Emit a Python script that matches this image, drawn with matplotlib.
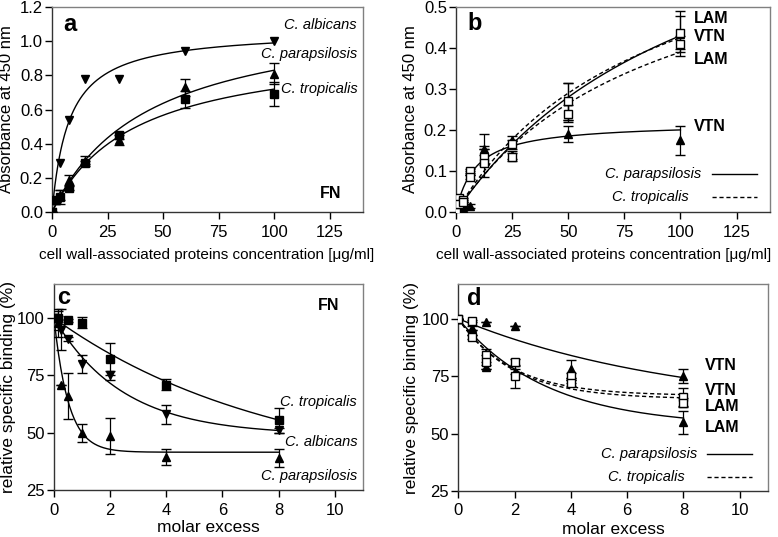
import numpy as np
import matplotlib
matplotlib.use("Agg")
import matplotlib.pyplot as plt
from matplotlib.ticker import FormatStrFormatter

plt.rcParams["font.family"] = ["Liberation Sans", "DejaVu Sans"]
plt.rcParams["font.size"] = 11

# ---- panel a: FN binding ----
a_x = [0, 1.875, 3.75, 7.5, 15, 30, 60, 100]
a_alb_x = [0, 3.75, 7.5, 15, 30, 60, 100]
a_alb_y = [0, 0.29, 0.54, 0.78, 0.78, 0.94, 1.00]
a_par_y = [0, 0.07, 0.10, 0.19, 0.30, 0.42, 0.73, 0.81]
a_par_e = [0, 0.01, 0.03, 0.03, 0.03, 0.03, 0.05, 0.06]
a_tro_y = [0, 0.07, 0.09, 0.14, 0.29, 0.45, 0.66, 0.69]
a_tro_e = [0, 0.01, 0.04, 0.01, 0.01, 0.02, 0.05, 0.07]
# one-site fits (Bmax, Kd)
a_fit = {"alb": (1.066, 7.7), "par": (1.193, 43.7), "tro": (0.986, 37.0)}

# ---- panel b: LAM / VTN binding ----
b_x = [0, 1.56, 3.125, 6.25, 12.5, 25, 50, 100]
b_par_lam_y = [0, 0.005, 0.01, 0.015, 0.155, 0.175, 0.27, 0.435]
b_par_lam_e = [0, 0.005, 0.005, 0.005, 0.035, 0.01, 0.045, 0.055]
b_par_vtn_y = [0, 0.01, 0.02, 0.095, 0.15, 0.14, 0.19, 0.175]
b_par_vtn_e = [0, 0.005, 0.005, 0.005, 0.01, 0.01, 0.02, 0.035]
b_tro_vtn_y = [0, 0.035, 0.03, 0.10, 0.135, 0.165, 0.27, 0.437]
b_tro_vtn_e = [0, 0.005, 0.005, 0.005, 0.02, 0.01, 0.045, 0.04]
b_tro_lam_y = [0, 0.02, 0.025, 0.085, 0.12, 0.135, 0.24, 0.41]
b_tro_lam_e = [0, 0.005, 0.005, 0.005, 0.035, 0.01, 0.02, 0.02]
b_fit = {"par_lam": (0.927, 115.5), "par_vtn": (0.218, 8.8),
         "tro_vtn": (0.795, 87.1), "tro_lam": (0.738, 89.3)}

# ---- panel c: FN inhibition ----
c_tro_x = [0, 0.125, 0.5, 1, 2, 4, 8]
c_tro_y = [100, 100, 99, 98, 82, 71, 55.5]
c_tro_e = [0, 1, 0.5, 2.5, 7, 2.5, 5.5]
c_x = [0, 0.125, 0.25, 0.5, 1, 2, 4, 8]
c_alb_y = [100, 99, 95, 91, 80, 75, 58, 51]
c_alb_e = [0, 4, 9, 1, 4, 2, 4, 1]
c_par_y = [100, 98, 71, 66, 50, 48.5, 39.5, 39]
c_par_e = [0, 6, 0, 10, 4, 8, 3.5, 4]
# one-phase decay fits (plateau, k)
c_fit = {"tro": (30.0, 0.126), "alb": (49.0, 0.407), "par": (41.5, 1.93)}

# ---- panel d: LAM / VTN inhibition ----
d_x = [0, 0.5, 1, 2, 4, 8]
d_par_vtn_y = [100, 96, 98.5, 97, 78, 75]
d_par_vtn_e = [0, 1, 0, 0, 4, 3]
d_par_lam_y = [100, 94, 79, 77, 73, 55]
d_par_lam_e = [0, 1, 1, 1, 1, 5]
d_tro_vtn_y = [100, 99, 84, 81, 75, 66]
d_tro_vtn_e = [0, 0.5, 3, 1.5, 1.5, 4]
d_tro_lam_y = [100, 92, 81, 75, 72, 63.5]
d_tro_lam_e = [0, 1, 3, 5, 1.5, 2]
d_fit = {"par_vtn": (59.5, 0.1256), "par_lam": (53.0, 0.3156),
         "tro_vtn": (66.5, 0.535), "tro_lam": (65.0, 0.515)}


def hyper(x, p):
    return p[0] * x / (p[1] + x)


def decay(x, p):
    return p[0] + (100 - p[0]) * np.exp(-p[1] * x)


def style(ax):
    for s in ["top", "right"]:
        ax.spines[s].set_color("#808080")
    for s in ["left", "bottom"]:
        ax.spines[s].set_color("#333333")
    ax.spines[:].set_linewidth(1.0)
    ax.tick_params(direction="out", length=5, width=1, labelsize=12, top=False, right=False)
    ax.tick_params(axis="y", pad=1.5)
    ax.tick_params(axis="x", pad=4)


def pts(ax, x, y, e, m, filled=True, ms=5.5):
    ax.errorbar(x, y, yerr=e, fmt=m, color="black", ms=ms,
                mfc="black" if filled else "white", mec="black", mew=1,
                elinewidth=0.9, capsize=3.5, capthick=0.9, zorder=3)


fig = plt.figure(figsize=(7.78, 5.37), dpi=100)
ax_a = fig.add_axes([0.0668, 0.605, 0.400, 0.382])
ax_b = fig.add_axes([0.586, 0.605, 0.404, 0.382])
ax_c = fig.add_axes([0.0694, 0.0875, 0.397, 0.384])
ax_d = fig.add_axes([0.589, 0.0857, 0.398, 0.385])

xs = np.linspace(0, 100, 300)
xd = np.linspace(0, 8, 300)
xlab = "cell wall-associated proteins concentration [\u03bcg/ml]"
dash = (0, (3, 2))

# a
ax = ax_a
for k in a_fit:
    ax.plot(xs, hyper(xs, a_fit[k]), color="black", lw=1)
pts(ax, a_alb_x, a_alb_y, None, "v", ms=6)
pts(ax, a_x, a_par_y, a_par_e, "^", ms=6)
pts(ax, a_x, a_tro_y, a_tro_e, "s", ms=5.5)
ax.set_xlim(0, 140)
ax.set_ylim(0, 1.2)
ax.set_xticks([0, 25, 50, 75, 100, 125])
ax.set_yticks(np.arange(0, 1.21, 0.2))
ax.yaxis.set_major_formatter(FormatStrFormatter("%.1f"))
ax.set_ylabel("Absorbance at 450 nm", fontsize=12)
ax.set_xlabel(xlab, fontsize=11, va="center")
ax.yaxis.set_label_coords(-0.122, 0.5)
ax.xaxis.set_label_coords(0.497, -0.21)
ax.text(137, 1.095, "C. albicans", style="italic", ha="right", va="center", fontsize=10.5)
ax.text(137.5, 0.925, "C. parapsilosis", style="italic", ha="right", va="center", fontsize=10.5)
ax.text(137.5, 0.72, "C. tropicalis", style="italic", ha="right", va="center", fontsize=10.5)
ax.text(130, 0.111, "FN", weight="bold", ha="right", va="center", fontsize=11.5)
ax.text(5, 1.095, "a", weight="bold", ha="left", va="center", fontsize=17)
style(ax)

# b
ax = ax_b
ax.plot(xs, hyper(xs, b_fit["par_lam"]), color="black", lw=1)
ax.plot(xs, hyper(xs, b_fit["par_vtn"]), color="black", lw=1)
ax.plot(xs, hyper(xs, b_fit["tro_vtn"]), color="black", lw=1, ls=dash)
ax.plot(xs, hyper(xs, b_fit["tro_lam"]), color="black", lw=1, ls=dash)
pts(ax, b_x, b_par_lam_y, b_par_lam_e, "^", ms=5.5)
pts(ax, b_x, b_par_vtn_y, b_par_vtn_e, "^", ms=5.5)
pts(ax, b_x, b_tro_vtn_y, b_tro_vtn_e, "s", filled=False, ms=6)
pts(ax, b_x, b_tro_lam_y, b_tro_lam_e, "s", filled=False, ms=6)
ax.set_xlim(0, 140)
ax.set_ylim(0, 0.5)
ax.set_xticks([0, 25, 50, 75, 100, 125])
ax.set_yticks(np.arange(0, 0.51, 0.1))
ax.yaxis.set_major_formatter(FormatStrFormatter("%.1f"))
ax.set_ylabel("Absorbance at 450 nm", fontsize=12)
ax.set_xlabel(xlab, fontsize=11, va="center")
ax.yaxis.set_label_coords(-0.121, 0.5)
ax.xaxis.set_label_coords(0.47, -0.21)
for lbl, yy in [("LAM", 0.473), ("VTN", 0.427), ("LAM", 0.371), ("VTN", 0.209)]:
    ax.text(106, yy, lbl, weight="bold", ha="left", va="center", fontsize=11.5)
ax.text(109.5, 0.092, "C. parapsilosis", style="italic", ha="right", va="center", fontsize=10.5)
ax.text(103.5, 0.036, "C. tropicalis", style="italic", ha="right", va="center", fontsize=10.5)
ax.plot([114, 134], [0.092, 0.092], color="black", lw=1)
ax.plot([114, 134], [0.036, 0.036], color="black", lw=1, ls=dash)
ax.text(5, 0.459, "b", weight="bold", ha="left", va="center", fontsize=17)
style(ax)

# c
ax = ax_c
for k in c_fit:
    ax.plot(xd, decay(xd, c_fit[k]), color="black", lw=1)
pts(ax, c_tro_x, c_tro_y, c_tro_e, "s", ms=5.5)
pts(ax, c_x, c_alb_y, c_alb_e, "v", ms=6)
pts(ax, c_x, c_par_y, c_par_e, "^", ms=6)
ax.set_xlim(0, 11)
ax.set_ylim(25, 115)
ax.set_xticks([0, 2, 4, 6, 8, 10])
ax.set_yticks([25, 50, 75, 100])
ax.set_ylabel("relative specific binding (%)", fontsize=12.5)
ax.set_xlabel("molar excess", fontsize=12.5, va="center")
ax.yaxis.set_label_coords(-0.123, 0.5)
ax.xaxis.set_label_coords(0.5, -0.184)
ax.text(10.8, 63.6, "C. tropicalis", style="italic", ha="right", va="center", fontsize=10.5)
ax.text(10.8, 46.1, "C. albicans", style="italic", ha="right", va="center", fontsize=10.5)
ax.text(10.8, 31.1, "C. parapsilosis", style="italic", ha="right", va="center", fontsize=10.5)
ax.text(10.17, 105.4, "FN", weight="bold", ha="right", va="center", fontsize=11.5)
ax.text(0.1, 109, "c", weight="bold", ha="left", va="center", fontsize=17)
style(ax)

# d
ax = ax_d
ax.plot(xd, decay(xd, d_fit["par_vtn"]), color="black", lw=1)
ax.plot(xd, decay(xd, d_fit["par_lam"]), color="black", lw=1)
ax.plot(xd, decay(xd, d_fit["tro_vtn"]), color="black", lw=1, ls=dash)
ax.plot(xd, decay(xd, d_fit["tro_lam"]), color="black", lw=1, ls=dash)
pts(ax, d_x, d_par_vtn_y, d_par_vtn_e, "^", ms=5.5)
pts(ax, d_x, d_par_lam_y, d_par_lam_e, "^", ms=5.5)
pts(ax, d_x, d_tro_vtn_y, d_tro_vtn_e, "s", filled=False, ms=6)
pts(ax, d_x, d_tro_lam_y, d_tro_lam_e, "s", filled=False, ms=6)
ax.set_xlim(0, 11)
ax.set_ylim(25, 115)
ax.set_xticks([0, 2, 4, 6, 8, 10])
ax.set_yticks([25, 50, 75, 100])
ax.set_ylabel("relative specific binding (%)", fontsize=12.5)
ax.set_xlabel("molar excess", fontsize=12.5, va="center")
ax.yaxis.set_label_coords(-0.126, 0.5)
ax.xaxis.set_label_coords(0.5, -0.184)
for lbl, yy in [("VTN", 79.8), ("VTN", 68.6), ("LAM", 61.7), ("LAM", 52.8)]:
    ax.text(8.76, yy, lbl, weight="bold", ha="left", va="center", fontsize=11.5)
ax.text(8.49, 41.1, "C. parapsilosis", style="italic", ha="right", va="center", fontsize=10.5)
ax.text(8.06, 31.1, "C. tropicalis", style="italic", ha="right", va="center", fontsize=10.5)
ax.plot([8.85, 10.45], [41.1, 41.1], color="black", lw=1)
ax.plot([8.85, 10.45], [31.1, 31.1], color="black", lw=1, ls=dash)
ax.text(0.3, 109, "d", weight="bold", ha="left", va="center", fontsize=17)
style(ax)

fig.savefig("out.png", dpi=100)
